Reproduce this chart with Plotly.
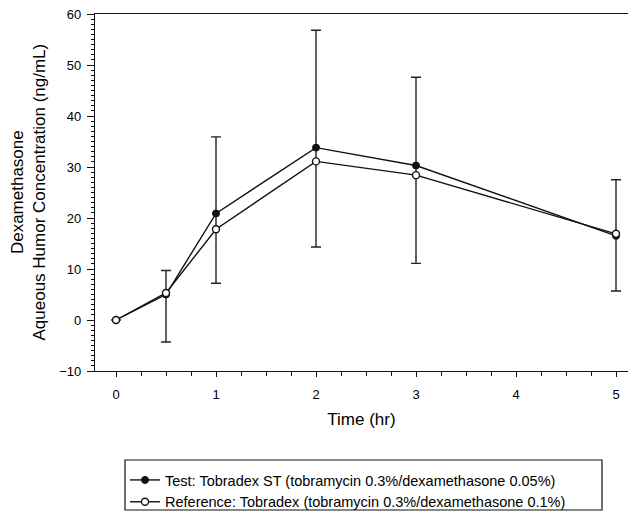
import plotly.graph_objects as go

time_hr = [0, 0.5, 1, 2, 3, 5]
test_conc = [0, 5.0, 20.9, 33.8, 30.3, 16.5]
ref_conc = [0, 5.3, 17.8, 31.1, 28.4, 16.9]
err_upper = [None, 9.7, 35.9, 56.8, 47.6, 27.5]
err_lower = [None, -4.3, 7.2, 14.3, 11.1, 5.7]

test_name = "Test: Tobradex ST (tobramycin 0.3%/dexamethasone 0.05%)"
ref_name = "Reference: Tobradex (tobramycin 0.3%/dexamethasone 0.1%)"
y_title = "Dexamethasone<br>Aqueous Humor Concentration (ng/mL)"
x_title = "Time (hr)"

plus = [0 if u is None else u - v for u, v in zip(err_upper, test_conc)]
minus = [0 if l is None else v - l for l, v in zip(err_lower, test_conc)]

fig = go.Figure()
fig.add_trace(go.Scatter(
    x=time_hr, y=test_conc, mode="lines+markers", name=test_name,
    line=dict(color="#111", width=1.4), cliponaxis=False,
    marker=dict(symbol="circle", size=7, color="#111", line=dict(color="#111", width=1)),
    error_y=dict(type="data", symmetric=False, array=plus, arrayminus=minus,
                 color="#222", thickness=1.4, width=5),
))
fig.add_trace(go.Scatter(
    x=time_hr, y=ref_conc, mode="lines+markers", name=ref_name,
    line=dict(color="#111", width=1.4), cliponaxis=False,
    marker=dict(symbol="circle", size=7, color="white", line=dict(color="#111", width=1.4)),
))

PW, PH = 533.0, 357.0  # plot area size in px (for the legend frame)
font = dict(family="Liberation Sans, Arial, sans-serif", color="#000")
fig.update_layout(
    width=629, height=512,
    margin=dict(l=95, r=1, t=14, b=141),
    plot_bgcolor="white", paper_bgcolor="white",
    font=dict(size=13, **font),
    showlegend=True,
    legend=dict(x=0.0563, y=1 - 464 / 512, xanchor="left", yanchor="top",
                xref="paper", yref="container",
                borderwidth=0, bgcolor="rgba(0,0,0,0)",
                font=dict(size=14.5, **font), tracegroupgap=0,
                itemwidth=30),
    shapes=[dict(type="rect", xref="paper", yref="paper",
                 x0=(125 - 95) / PW, x1=(602 - 95) / PW,
                 y0=(371 - 460) / PH, y1=(371 - 510) / PH,
                 line=dict(color="#111", width=1.2), fillcolor="rgba(0,0,0,0)",
                 layer="below")],
    xaxis=dict(range=[-0.21, 5.12], tickvals=[0, 1, 2, 3, 4, 5], automargin=False,
               showgrid=False, zeroline=False, showline=True, linecolor="#111",
               linewidth=1.4, mirror=True, ticks="outside", ticklen=5,
               tickcolor="#111", tickfont=dict(size=13, **font), ticklabelstandoff=6,
               minor=dict(dtick=0.25, tick0=0, ticks="outside", ticklen=4, tickcolor="#111"),
               title=dict(text=x_title, font=dict(size=17, **font), standoff=12)),
    yaxis=dict(range=[-10, 60], dtick=10, showgrid=False, zeroline=False, automargin=False,
               showline=True, linecolor="#111", linewidth=1.4,
               ticks="outside", ticklen=7, tickcolor="#111",
               tickfont=dict(size=13, **font), ticklabelstandoff=3,
               minor=dict(dtick=1, ticks="outside", ticklen=3, tickcolor="#111")),
    annotations=[dict(text=y_title, textangle=-90, xref="paper", yref="paper",
                      x=(28 - 95) / PW, y=0.5, xanchor="center", yanchor="middle",
                      showarrow=False, font=dict(size=17, **font))],
)

fig.write_html("out.html", config={"displayModeBar": False},
               post_script="document.body.style.margin='0';")
